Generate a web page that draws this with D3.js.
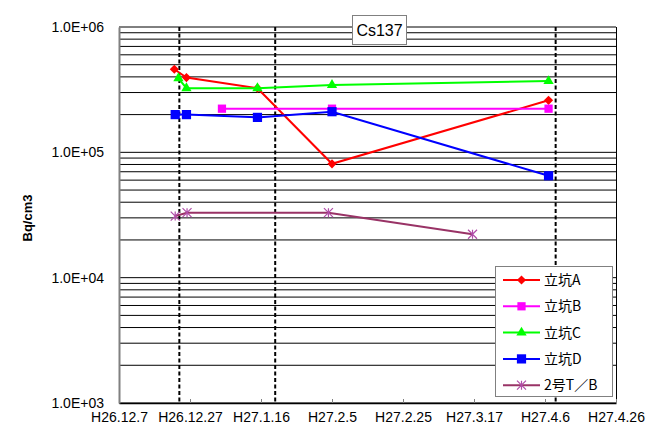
<!DOCTYPE html>
<html>
<head>
<meta charset="utf-8">
<script src="https://cdn.jsdelivr.net/npm/d3@7"></script>
<style>
  html, body { margin: 0; padding: 0; background: #fff; }
  svg { display: block; }
  .tick-label { font-family: "Liberation Sans", Arial, sans-serif; fill: #000; }
</style>
</head>
<body>
<svg id="chart" width="647" height="427"></svg>
<script>
// Axis ticks (Japanese era dates, 20-day steps)
const tickDates = ["2014-12-07", "2014-12-27", "2015-01-16", "2015-02-05", "2015-02-25", "2015-03-17", "2015-04-06", "2015-04-26"];
const tickLabels = ["H26.12.7", "H26.12.27", "H27.1.16", "H27.2.5", "H27.2.25", "H27.3.17", "H27.4.6", "H27.4.26"];
const yTickValues = [1e3, 1e4, 1e5, 1e6];
const yTickLabels = ["1.0E+03", "1.0E+04", "1.0E+05", "1.0E+06"];

// Reference dates drawn as dashed vertical lines
const eventDates = ["2014-12-24", "2015-01-20", "2015-04-09"];

// Cs137 concentration (Bq/cm3) per sampling point
const seriesNames = ["立坑A", "立坑B", "立坑C", "立坑D", "2号T／B"];
const shaftADates = ["2014-12-22 14:00", "2014-12-26 00:00", "2015-01-15 00:00", "2015-02-05 00:00", "2015-04-07 00:00"];
const shaftAValues = [460000, 395000, 325000, 81000, 260000];
const shaftBDates = ["2015-01-05 00:00", "2015-02-05 00:00", "2015-04-07 00:00"];
const shaftBValues = [223000, 223000, 223000];
const shaftCDates = ["2014-12-23 18:00", "2014-12-26 00:00", "2015-01-15 00:00", "2015-02-05 00:00", "2015-04-07 00:00"];
const shaftCValues = [390000, 325000, 325000, 345000, 370000];
const shaftDDates = ["2014-12-22 20:00", "2014-12-26 00:00", "2015-01-15 00:00", "2015-02-05 00:00", "2015-04-07 00:00"];
const shaftDValues = [200000, 200000, 190000, 211000, 65000];
const tbDates = ["2014-12-22 20:00", "2014-12-26 04:00", "2015-02-04 00:00", "2015-03-16 14:00"];
const tbValues = [31000, 33000, 33000, 22200];

const parseDay = d3.utcParse("%Y-%m-%d");
const parseTime = d3.utcParse("%Y-%m-%d %H:%M");

const series = [
  { name: seriesNames[0], dates: shaftADates, values: shaftAValues, color: "#ff0000", marker: "diamond" },
  { name: seriesNames[1], dates: shaftBDates, values: shaftBValues, color: "#ff00ff", marker: "smallSquare" },
  { name: seriesNames[2], dates: shaftCDates, values: shaftCValues, color: "#00ff00", marker: "triangle" },
  { name: seriesNames[3], dates: shaftDDates, values: shaftDValues, color: "#0000ff", marker: "square" },
  { name: seriesNames[4], dates: tbDates, values: tbValues, color: "#993366", marker: "asterisk" }
].map(s => ({ ...s, points: s.dates.map((d, i) => ({ date: parseTime(d), value: s.values[i] })) }));

const plot = { left: 119, right: 616, top: 27, bottom: 403 };

const x = d3.scaleUtc()
  .domain([parseDay(tickDates[0]), parseDay(tickDates[tickDates.length - 1])])
  .range([plot.left, plot.right]);
const y = d3.scaleLog().domain([1e3, 1e6]).range([plot.bottom, plot.top]);

const svg = d3.select("#chart");

// Horizontal gridlines at every 1..9 step of each decade
svg.append("g")
  .selectAll("line")
  .data(y.ticks())
  .join("line")
  .attr("x1", plot.left).attr("x2", plot.right)
  .attr("y1", d => y(d)).attr("y2", d => y(d))
  .attr("stroke", "#000").attr("stroke-width", 1);

// Right frame edge
svg.append("line")
  .attr("x1", plot.right + 0.5).attr("x2", plot.right + 0.5)
  .attr("y1", plot.top).attr("y2", plot.bottom)
  .attr("stroke", "#000");

// Dashed event lines
svg.append("g")
  .selectAll("line")
  .data(eventDates.map(parseDay))
  .join("line")
  .attr("x1", d => x(d)).attr("x2", d => x(d))
  .attr("y1", plot.top).attr("y2", plot.bottom)
  .attr("stroke", "#000").attr("stroke-width", 2)
  .attr("stroke-dasharray", "4,2.5");

// X axis
const xAxis = d3.axisBottom(x)
  .tickValues(tickDates.map(parseDay))
  .tickFormat((d, i) => tickLabels[i])
  .tickSizeInner(-4).tickSizeOuter(0).tickPadding(12);
const gx = svg.append("g").attr("transform", `translate(0,${plot.bottom})`).call(xAxis);
gx.select(".domain").attr("stroke", "#000").attr("stroke-width", 1.5);
gx.selectAll(".tick line").attr("stroke", "#808080");
gx.selectAll(".tick text").attr("class", "tick-label").attr("font-size", 14).attr("dy", "0.75em").attr("y", 8);

// Y axis
const yAxis = d3.axisLeft(y)
  .tickValues(yTickValues)
  .tickFormat((d, i) => yTickLabels[i])
  .tickSize(0).tickPadding(15);
const gy = svg.append("g").attr("transform", `translate(${plot.left},0)`).call(yAxis);
gy.select(".domain").attr("stroke", "#808080").attr("stroke-width", 2);
gy.selectAll(".tick text").attr("class", "tick-label").attr("font-size", 14);

// Y axis title
svg.append("text")
  .attr("transform", "translate(32,218) rotate(-90)")
  .attr("text-anchor", "middle")
  .attr("font-family", "Liberation Sans, Arial, sans-serif")
  .attr("font-size", 13).attr("font-weight", "bold")
  .text("Bq/cm3");

// Marker shapes
function drawMarker(g, type, color) {
  if (type === "diamond") {
    g.append("path").attr("d", d3.symbol(d3.symbolSquare, 42)()).attr("transform", "rotate(45)").attr("fill", color);
  } else if (type === "square") {
    g.append("path").attr("d", d3.symbol(d3.symbolSquare, 85)()).attr("fill", color);
  } else if (type === "smallSquare") {
    g.append("path").attr("d", d3.symbol(d3.symbolSquare, 68)()).attr("fill", color);
  } else if (type === "triangle") {
    g.append("path").attr("d", d3.symbol(d3.symbolTriangle, 46)()).attr("fill", color);
  } else if (type === "asterisk") {
    const r = 4.5;
    const p = d3.path();
    p.moveTo(-r, -r); p.lineTo(r, r);
    p.moveTo(-r, r); p.lineTo(r, -r);
    p.moveTo(0, -r); p.lineTo(0, r);
    g.append("path").attr("d", p.toString()).attr("stroke", "#b04ca8").attr("stroke-width", 1.2).attr("fill", "none");
  }
}

const line = d3.line().x(d => x(d.date)).y(d => y(d.value));

series.forEach(s => {
  const g = svg.append("g");
  g.append("path").datum(s.points).attr("d", line)
    .attr("fill", "none").attr("stroke", s.color).attr("stroke-width", 2);
  g.selectAll("g.pt").data(s.points).join("g")
    .attr("class", "pt")
    .attr("transform", d => `translate(${x(d.date)},${y(d.value)})`)
    .each(function () { drawMarker(d3.select(this), s.marker, s.color); });
});

// Title box
const title = svg.append("g");
title.append("rect").attr("x", 352.5).attr("y", 15.5).attr("width", 54).attr("height", 29)
  .attr("fill", "#fff").attr("stroke", "#808080");
title.append("text").attr("x", 379.5).attr("y", 36)
  .attr("text-anchor", "middle")
  .attr("font-family", "Liberation Sans, Arial, sans-serif").attr("font-size", 16)
  .text("Cs137");

// Legend
const legend = svg.append("g");
legend.append("rect").attr("x", 495.5).attr("y", 266.5).attr("width", 117).attr("height", 130)
  .attr("fill", "#fff").attr("stroke", "#808080");
series.forEach((s, i) => {
  const ly = 280 + i * 26.3;
  const row = legend.append("g");
  row.append("line").attr("x1", 503).attr("x2", 540).attr("y1", ly).attr("y2", ly)
    .attr("stroke", s.color).attr("stroke-width", 2);
  const m = row.append("g").attr("transform", `translate(521.5,${ly})`);
  drawMarker(m, s.marker, s.color);
  row.append("text").attr("x", 544).attr("y", ly).attr("dy", "0.36em")
    .attr("font-family", "Noto Sans CJK JP, sans-serif").attr("font-size", 14)
    .text(s.name);
});
</script>
</body>
</html>
